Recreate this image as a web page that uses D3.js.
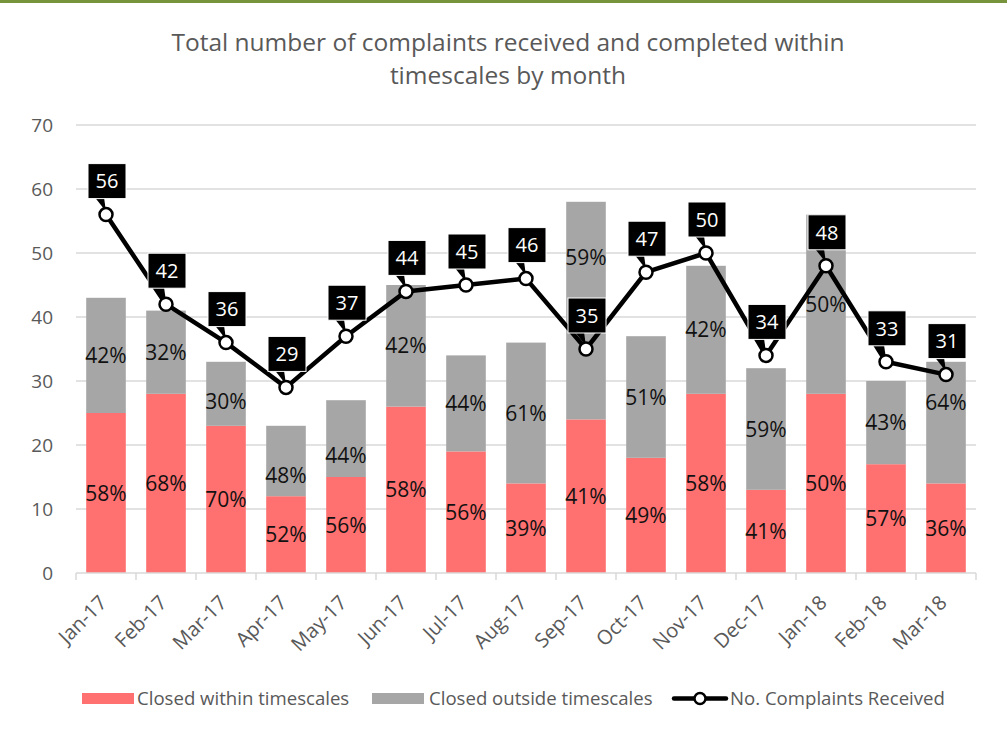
<!DOCTYPE html>
<html>
<head>
  <meta charset="utf-8">
  <script src="https://d3js.org/d3.v7.min.js"></script>
  <style>
    body { margin: 0; background: #fff; }
    text { font-family: "Open Sans", sans-serif; }
  </style>
</head>
<body>
  <div id="chart"></div>
  <script>
    // data
    var months = ["Jan-17", "Feb-17", "Mar-17", "Apr-17", "May-17", "Jun-17", "Jul-17", "Aug-17",
      "Sep-17", "Oct-17", "Nov-17", "Dec-17", "Jan-18", "Feb-18", "Mar-18"];
    var closedWithin = [25, 28, 23, 12, 15, 26, 19, 14, 24, 18, 28, 13, 28, 17, 14];
    var closedOutside = [18, 13, 10, 11, 12, 19, 15, 22, 34, 19, 20, 19, 28, 13, 19];
    var withinPct = ["58%", "68%", "70%", "52%", "56%", "58%", "56%", "39%", "41%", "49%", "58%", "41%", "50%", "57%", "36%"];
    var outsidePct = ["42%", "32%", "30%", "48%", "44%", "42%", "44%", "61%", "59%", "51%", "42%", "59%", "50%", "43%", "64%"];
    // value at which each "outside" label sits (some were dragged off centre in the original)
    var outsideLabelAt = [34, 34.5, 26.8, 15.2, 18.4, 35.5, 26.5, 25, 49.3, 27.5, 38, 22.5, 42, 23.5, 26.6];
    var received = [56, 42, 36, 29, 37, 44, 45, 46, 35, 47, 50, 34, 48, 33, 31];
    var yTicks = [0, 10, 20, 30, 40, 50, 60, 70];

    var W = 1007, H = 731;
    var textGrey = "#595959", red = "#ff7070", grey = "#a6a6a6";

    var svg = d3.select("#chart").append("svg")
      .attr("width", W).attr("height", H);

    // green strip along the top
    svg.append("rect").attr("x", 0).attr("y", 0).attr("width", W).attr("height", 3)
      .attr("fill", "#77933c");

    // title
    svg.append("text").attr("x", 508).attr("y", 51).attr("text-anchor", "middle")
      .attr("font-size", 24.5).attr("fill", textGrey)
      .text("Total number of complaints received and completed within");
    svg.append("text").attr("x", 508).attr("y", 84).attr("text-anchor", "middle")
      .attr("font-size", 24.5).attr("fill", textGrey)
      .text("timescales by month");

    var x = d3.scaleBand().domain(months).range([76, 976])
      .paddingInner(0.34).paddingOuter(0.17);
    var y = d3.scaleLinear().domain([0, 70]).range([573, 125]);

    // gridlines
    svg.append("g").selectAll("line").data(yTicks.slice(1)).enter().append("line")
      .attr("x1", 76).attr("x2", 976)
      .attr("y1", d => y(d)).attr("y2", d => y(d))
      .attr("stroke", "#d9d9d9").attr("stroke-width", 1.5);

    // y tick labels
    svg.append("g").selectAll("text").data(yTicks).enter().append("text")
      .attr("x", 53).attr("y", d => y(d)).attr("dy", "0.36em")
      .attr("text-anchor", "end").attr("font-size", 19).attr("fill", textGrey)
      .text(d => d);

    // stacked bars
    var rows = months.map((m, i) => ({
      m: m, a: closedWithin[i], b: closedOutside[i],
      pa: withinPct[i], pb: outsidePct[i], lb: outsideLabelAt[i]
    }));
    var bars = svg.append("g");
    bars.selectAll("rect.in").data(rows).enter().append("rect")
      .attr("x", d => x(d.m)).attr("width", x.bandwidth())
      .attr("y", d => y(d.a)).attr("height", d => y(0) - y(d.a))
      .attr("fill", red);
    bars.selectAll("rect.out").data(rows).enter().append("rect")
      .attr("x", d => x(d.m)).attr("width", x.bandwidth())
      .attr("y", d => y(d.a + d.b)).attr("height", d => y(d.a) - y(d.a + d.b))
      .attr("fill", grey);

    // x axis
    var xAxis = svg.append("g").attr("transform", "translate(0," + y(0) + ")");
    xAxis.append("line").attr("x1", 76).attr("x2", 976).attr("stroke", "#d9d9d9").attr("stroke-width", 1.5);
    xAxis.selectAll("line.tick").data(d3.range(16)).enter().append("line")
      .attr("x1", d => 76 + d * x.step()).attr("x2", d => 76 + d * x.step())
      .attr("y1", 0).attr("y2", 7).attr("stroke", "#d9d9d9").attr("stroke-width", 1.5);
    xAxis.selectAll("text").data(months).enter().append("text")
      .attr("transform", d => "translate(" + (x(d) + x.bandwidth() / 2 + 2) + ",31) rotate(-45)")
      .attr("text-anchor", "end")
      .attr("font-size", 20).attr("fill", textGrey)
      .text(d => d);

    // percentage labels
    bars.selectAll("text.in").data(rows).enter().append("text")
      .attr("x", d => x(d.m) + x.bandwidth() / 2).attr("y", d => y(d.a / 2)).attr("dy", "0.36em")
      .attr("text-anchor", "middle").attr("font-size", 21).attr("fill", "#111")
      .text(d => d.pa);
    bars.selectAll("text.out").data(rows).enter().append("text")
      .attr("x", d => x(d.m) + x.bandwidth() / 2).attr("y", d => y(d.lb)).attr("dy", "0.36em")
      .attr("text-anchor", "middle").attr("font-size", 21).attr("fill", "#111")
      .text(d => d.pb);

    // complaints line
    var pts = months.map((m, i) => ({ m: m, v: received[i], cx: x(m) + x.bandwidth() / 2, cy: y(received[i]) }));
    svg.append("path").datum(pts)
      .attr("fill", "none").attr("stroke", "#000").attr("stroke-width", 4.5)
      .attr("stroke-linejoin", "round")
      .attr("d", d3.line().x(d => d.cx).y(d => d.cy));

    // callouts
    var bw = 38, bh = 35, gap = 16;
    var call = svg.append("g").selectAll("g").data(pts).enter().append("g");
    call.append("path")
      .attr("d", d => {
        var bot = d.cy - gap;
        return "M" + (d.cx - 11) + "," + (bot - 1) + "L" + (d.cx - 2) + "," + (bot - 1) + "L" + d.cx + "," + (d.cy - 3) + "Z";
      })
      .attr("fill", "#000");
    call.append("rect")
      .attr("x", d => d.cx - bw / 2 + 1).attr("y", d => d.cy - gap - bh)
      .attr("width", bw).attr("height", bh).attr("fill", "#000")
      .attr("stroke", "#fff").attr("stroke-width", 1);
    call.append("text")
      .attr("x", d => d.cx + 1).attr("y", d => d.cy - gap - bh / 2).attr("dy", "0.36em")
      .attr("text-anchor", "middle").attr("font-size", 20).attr("fill", "#fff")
      .text(d => d.v);

    // markers on top
    svg.append("g").selectAll("circle").data(pts).enter().append("circle")
      .attr("cx", d => d.cx).attr("cy", d => d.cy).attr("r", 6.5)
      .attr("fill", "#fff").attr("stroke", "#000").attr("stroke-width", 2.5);

    // legend
    var lg = svg.append("g").attr("font-size", 18.6).attr("fill", textGrey);
    lg.append("rect").attr("x", 82).attr("y", 693).attr("width", 52).attr("height", 11).attr("fill", red);
    lg.append("text").attr("x", 137).attr("y", 705).text("Closed within timescales");
    lg.append("rect").attr("x", 372).attr("y", 693).attr("width", 52).attr("height", 11).attr("fill", grey);
    lg.append("text").attr("x", 429).attr("y", 705).text("Closed outside timescales");
    lg.append("line").attr("x1", 674).attr("x2", 726).attr("y1", 698.5).attr("y2", 698.5)
      .attr("stroke", "#000").attr("stroke-width", 4.5).attr("stroke-linecap", "round");
    lg.append("circle").attr("cx", 700).attr("cy", 698.5).attr("r", 5.5)
      .attr("fill", "#fff").attr("stroke", "#000").attr("stroke-width", 2.5);
    lg.append("text").attr("x", 730).attr("y", 705).text("No. Complaints Received");
  </script>
</body>
</html>
